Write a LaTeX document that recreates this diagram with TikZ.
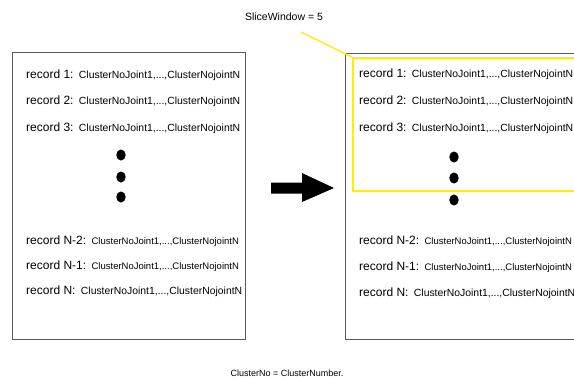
\documentclass[tikz,border=0pt]{standalone}
\usepackage{fontspec}
\setmainfont{Liberation Sans}
\usepackage{xcolor}
\usetikzlibrary{positioning, shapes.geometric}

\definecolor{boxgray}{HTML}{5A5A5A}
\definecolor{winyellow}{HTML}{FFEE00}

\begin{document}
\begin{tikzpicture}[
        x=1pt, y=-1pt,
        recbox/.style={draw=boxgray, line width=0.9pt},
        winbox/.style={draw=winyellow, line width=1.6pt},
        rec/.style={inner sep=0pt, anchor=west, font=\fontsize{12}{14}\selectfont},
        clu/.style={inner sep=0pt, font=\fontsize{10.4}{12}\selectfont},
        cluS/.style={inner sep=0pt, font=\fontsize{9.5}{11}\selectfont},
        vdot/.style={fill=black, ellipse, inner sep=0pt, minimum width=9.4pt, minimum height=11pt},
        note/.style={inner sep=0pt}
    ]
    \useasboundingbox (0,0) rectangle (574,380);
    \clip (0,0) rectangle (574,380);

    % the two record files
    \draw [recbox] (12,52) rectangle (245,339);
    \draw [recbox] (345,53) rectangle (600,339);

    % records, left (L) and right (R)
    \foreach \n/\lab/\yl/\yr/\sz in {1/1/74/73/clu, 2/2/100/100/clu, 3/3/127/127/clu,
                                     4/N-2/240/240/cluS, 5/N-1/265/266/cluS, 6/N/290/292/clu} {
        \node (recL\n) [rec] at (26,\yl) {record \lab:};
        \node (cluL\n) [\sz, right=5pt of recL\n.base east, anchor=base west] {ClusterNoJoint1,...,ClusterNojointN};
        \node (recR\n) [rec] at (359,\yr) {record \lab:};
        \node (cluR\n) [\sz, right=5pt of recR\n.base east, anchor=base west] {ClusterNoJoint1,...,ClusterNojointN};
    }

    % dots
    \foreach \d/\yl/\yr in {1/155/157, 2/177/178, 3/197/200} {
        \node (dotL\d) [vdot] at (121,\yl) {};
        \node (dotR\d) [vdot] at (454,\yr) {};
    }

    % block arrow
    \fill [black] (271,182.5) -- (302,182.5) -- (302,173) -- (334,188)
                  -- (302,202) -- (302,193.5) -- (271,193.5) -- cycle;

    % slice window
    \node (win) [winbox, minimum width=240pt, minimum height=133pt, anchor=north west] at (352,57) {};
    \node (slice) [note, font=\fontsize{10.5}{12}\selectfont] at (284,17) {SliceWindow = 5};
    \coordinate (sliceTip) at (301,32);
    \draw [winyellow, line width=1.4pt] (sliceTip) -- (win.north west);

    \node (legend) [note, font=\fontsize{9}{11}\selectfont] at (287,373) {ClusterNo = ClusterNumber.};

\end{tikzpicture}
\end{document}
